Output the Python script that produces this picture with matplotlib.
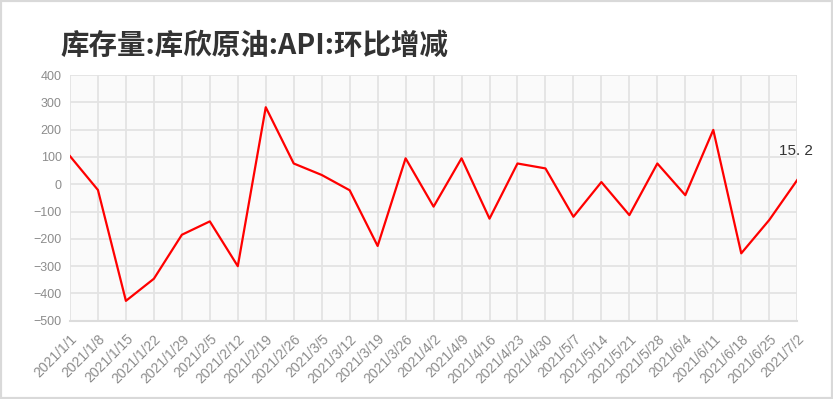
import matplotlib.pyplot as plt
from matplotlib.patches import Rectangle

plt.rcParams['font.family'] = ['Noto Sans CJK SC', 'DejaVu Sans']

dates = ['2021/1/1', '2021/1/8', '2021/1/15', '2021/1/22', '2021/1/29', '2021/2/5',
         '2021/2/12', '2021/2/19', '2021/2/26', '2021/3/5', '2021/3/12', '2021/3/19',
         '2021/3/26', '2021/4/2', '2021/4/9', '2021/4/16', '2021/4/23', '2021/4/30',
         '2021/5/7', '2021/5/14', '2021/5/21', '2021/5/28', '2021/6/4', '2021/6/11',
         '2021/6/18', '2021/6/25', '2021/7/2']
values = [103, -21, -427, -346, -185, -136, -300, 282, 76, 34, -22, -226,
          95, -82, 95, -126, 76, 58, -119, 8, -113, 76, -40, 199, -253, -131, 15.2]
y_ticks = [-500, -400, -300, -200, -100, 0, 100, 200, 300, 400]

fig = plt.figure(figsize=(8.33, 3.99), dpi=100)
fig.patches.append(Rectangle((0, 0), 1, 1, transform=fig.transFigure,
                             fill=False, edgecolor='#d9d9d9', linewidth=3))

ax = fig.add_axes([0.084, 0.196, 0.873, 0.616])
ax.set_facecolor('#fafafa')
x = list(range(len(dates)))
ax.plot(x, values, color='#ff0000', linewidth=1.6, zorder=3)
ax.set_xlim(0, len(dates) - 1)
ax.set_ylim(-500, 400)
ax.set_yticks(y_ticks)
ax.set_xticks(x)
ax.set_xticklabels(dates, rotation=45, ha='right', rotation_mode='anchor')
ax.grid(True, color='#e3e3e3', linewidth=1.3, zorder=0)
for s in ['top', 'right', 'left']:
    ax.spines[s].set_visible(False)
ax.spines['bottom'].set_color('#dcdcdc')
ax.spines['bottom'].set_linewidth(1.5)
ax.tick_params(length=0, labelsize=9, labelcolor='#8c8c8c', pad=6)
ax.tick_params(axis='x', labelsize=10, pad=8)
for lab in ax.get_xticklabels() + ax.get_yticklabels():
    lab.set_family(['Liberation Sans', 'DejaVu Sans'])

ax.annotate('15. 2', (x[-1], values[-1]), xytext=(-13, 16),
            textcoords='offset points', fontsize=11, color='#333333', ha='left', va='bottom',
            family=['Liberation Sans', 'DejaVu Sans'])

fig.text(0.072, 0.885, '库存量:库欣原油:API:环比增减', fontsize=20.5, fontweight='bold',
         color='#333333', ha='left', va='center')

fig.savefig('out.png', dpi=100)
